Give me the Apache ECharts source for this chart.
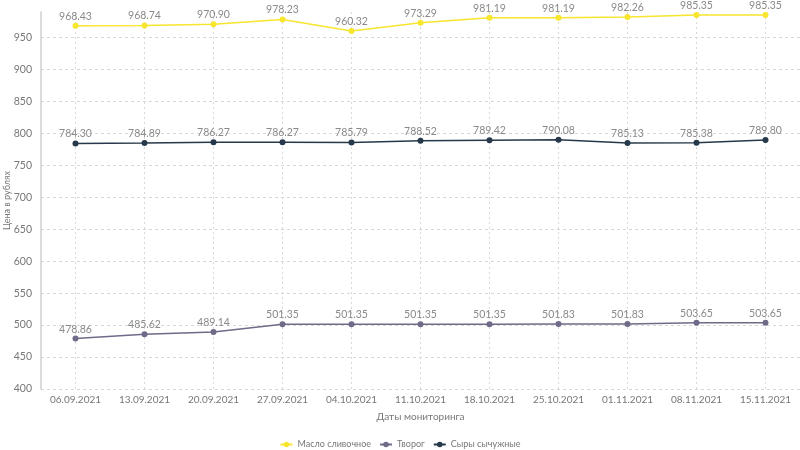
<!DOCTYPE html>
<html><head><meta charset="utf-8">
<script src="https://cdn.jsdelivr.net/npm/echarts@6/dist/echarts.min.js"></script>
<style>html,body{margin:0;padding:0;background:#fff}#c{width:800px;height:450px}</style>
</head><body><div id="c"></div>
<script>
const categories = ['06.09.2021','13.09.2021','20.09.2021','27.09.2021','04.10.2021','11.10.2021','18.10.2021','25.10.2021','01.11.2021','08.11.2021','15.11.2021'];
const butter = [968.43, 968.74, 970.90, 978.23, 960.32, 973.29, 981.19, 981.19, 982.26, 985.35, 985.35];
const curd = [478.86, 485.62, 489.14, 501.35, 501.35, 501.35, 501.35, 501.83, 501.83, 503.65, 503.65];
const cheese = [784.30, 784.89, 786.27, 786.27, 785.79, 788.52, 789.42, 790.08, 785.13, 785.38, 789.80];
const seriesNames = ['Масло сливочное', 'Творог', 'Сыры сычужные'];
const colors = ['#f7e52e', '#6f6a88', '#26394a'];

const font = 'Lato, "Open Sans", sans-serif';
const chart = echarts.init(document.getElementById('c'));
function mk(name, data, color, extra) {
  return Object.assign({
    name, type: 'line', data, color,
    symbol: 'circle', symbolSize: 6,
    lineStyle: { width: 1.5, color },
    itemStyle: { color },
    label: { show: true, position: 'top', distance: 1, color: '#8a8a8a', fontSize: 10.5, fontFamily: font,
      formatter: p => p.value.toFixed(2) },
    z: 3
  }, extra || {});
}
chart.setOption({
  animation: false,
  grid: { left: 41, right: 0, top: 12, bottom: 61, containLabel: false, outerBoundsMode: 'none' },
  legend: {
    top: 435, itemWidth: 12, itemHeight: 7, itemGap: 8,
    textStyle: { color: '#777', fontSize: 9, fontFamily: font },
    data: seriesNames
  },
  xAxis: {
    type: 'category', data: categories, boundaryGap: true,
    name: 'Даты мониторинга', nameLocation: 'middle', nameGap: 23, nameMoveOverlap: false,
    nameTextStyle: { color: '#777', fontSize: 10, fontFamily: font },
    axisLine: { show: false }, axisTick: { show: false },
    axisLabel: { interval: 0, color: '#777', fontSize: 10, fontFamily: font, margin: 6 },
    splitLine: { show: false }
  },
  yAxis: {
    type: 'value', min: 400, max: 990, interval: 50,
    name: 'Цена в рублях', nameLocation: 'middle', nameGap: 29, nameMoveOverlap: false,
    nameTextStyle: { color: '#777', fontSize: 9, fontFamily: font },
    axisLine: { show: true, lineStyle: { color: '#cfcfcf', width: 1.5 } },
    axisTick: { show: false },
    axisLabel: { color: '#777', fontSize: 10.5, fontFamily: font, margin: 9,
      formatter: v => (v % 50 === 0 ? String(v) : '') },
    splitLine: { show: true, showMaxLine: false, lineStyle: { color: '#d8d8d8', type: [3, 3] } }
  },
  series: [
    mk(seriesNames[0], butter, colors[0], {
      markLine: {
        silent: true, symbol: 'none', label: { show: false },
        lineStyle: { color: '#d8d8d8', type: [2, 3], width: 1 },
        data: categories.map(c => ({ xAxis: c })),
        z: 1
      }
    }),
    mk(seriesNames[1], curd, colors[1]),
    mk(seriesNames[2], cheese, colors[2])
  ]
});
</script></body></html>
